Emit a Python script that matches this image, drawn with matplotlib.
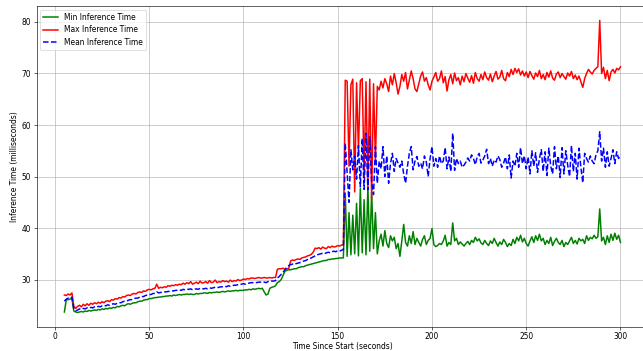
import numpy as np
import matplotlib
matplotlib.use("Agg")
import matplotlib.pyplot as plt

# time stamps (seconds since start), one sample per second from 5 to 300
t_start = 5
t_end = 300

max_time = [
    27.0, 26.9, 27.2, 27.0, 27.4,                                  # 5-9
    24.8, 24.4, 24.8, 25.0, 24.7, 25.2, 24.9, 25.3, 25.0, 25.4,    # 10-19
    25.2, 25.5, 25.3, 25.6, 25.4, 25.7, 25.5, 25.8, 25.9, 25.7,    # 20-29
    26.1, 26.0, 26.3, 26.2, 26.5, 26.4, 26.7, 26.6, 26.9, 27.0,    # 30-39
    26.9, 27.2, 27.3, 27.2, 27.5, 27.6, 27.5, 27.8, 27.7, 28.0,    # 40-49
    28.1, 28.0, 28.2, 28.3, 29.1, 28.3, 28.5, 28.4, 28.6, 28.5,    # 50-59
    28.8, 28.7, 28.9, 28.8, 29.0, 28.9, 29.1, 29.0, 29.3, 29.1,    # 60-69
    29.4, 29.2, 29.6, 29.1, 29.3, 29.5, 29.2, 29.7, 29.3, 29.4,    # 70-79
    29.6, 29.3, 29.8, 29.4, 29.5, 29.9, 29.4, 29.6, 29.5, 29.8,    # 80-89
    29.6, 29.7, 29.5, 29.9, 29.6, 29.8, 29.7, 30.0, 29.8, 29.9,    # 90-99
    30.1, 30.0, 30.2, 30.1, 30.3, 30.3, 30.2, 30.3, 30.4, 30.3,    # 100-109
    30.3, 30.4, 30.3, 30.3, 30.4, 30.3, 30.4, 30.4, 32.0, 32.1,    # 110-119
    32.1, 32.2, 32.0, 32.1, 32.1, 33.6, 33.8, 33.7, 33.9, 34.0,    # 120-129
    33.9, 34.2, 34.3, 34.4, 34.6, 34.7, 34.9, 35.3, 36.1, 36.0,    # 130-139
    36.2, 35.9, 36.3, 36.1, 36.0, 36.4, 36.2, 36.5, 36.3, 36.4,    # 140-149
    36.6, 36.5, 36.7, 36.8, 68.7, 68.5, 52.0, 67.8, 68.9, 47.0,    # 150-159
    68.2, 55.0, 68.6, 69.0, 50.0, 68.4, 48.0, 68.9, 45.5, 68.0,    # 160-169
    53.0, 67.5, 66.8, 68.5, 67.2, 69.0, 68.0, 66.5, 69.5, 67.8,    # 170-179
    70.0, 68.2, 66.0, 67.5, 69.8, 68.5, 70.2, 67.0, 68.8, 70.5,    # 180-189
    69.0, 67.0, 66.5, 68.0, 69.5, 70.3, 68.5, 69.2, 67.8, 66.8,    # 190-199
    68.5, 69.3, 70.2, 68.5, 69.0, 70.5, 68.2, 69.4, 66.6, 68.8,    # 200-209
    69.8, 68.0, 70.1, 68.6, 69.2, 67.8, 69.5, 68.4, 70.0, 69.1,    # 210-219
    68.3, 69.6, 68.1, 70.2, 69.0, 68.5, 69.8, 68.8, 70.3, 69.2,    # 220-229
    68.7, 69.9, 68.4, 69.5, 70.4, 68.9, 69.3, 70.6, 69.0, 68.6,    # 230-239
    70.2, 69.4, 70.8, 69.8, 71.0, 70.2, 70.9, 69.7, 70.5, 69.5,    # 240-249
    70.3, 69.2, 70.4, 69.6, 68.9, 70.1, 69.4, 70.6, 69.0, 69.8,    # 250-259
    68.8, 70.2, 69.3, 70.5, 69.1, 68.7, 69.9, 70.3, 69.2, 70.0,    # 260-269
    69.4, 68.9, 70.1, 69.5, 70.4, 69.0, 69.7, 68.8, 69.5, 68.4,    # 270-279
    67.3, 69.0, 70.0, 70.8, 70.3, 69.9, 70.6, 71.0, 71.3, 80.3,    # 280-289
    70.0, 71.2, 69.0, 70.6, 68.6, 70.3, 70.8, 70.1, 71.0, 70.7,    # 290-299
    71.3,                                                          # 300
]

mean_time = [
    25.8, 26.2, 26.4, 26.3, 26.6,                                  # 5-9
    24.3, 23.9, 24.1, 24.3, 24.2, 24.4, 24.3, 24.5, 24.4, 24.6,    # 10-19
    24.5, 24.7, 24.6, 24.8, 24.7, 24.9, 25.0, 24.9, 25.1, 25.0,    # 20-29
    25.2, 25.3, 25.2, 25.4, 25.5, 25.5, 25.7, 25.8, 25.8, 26.0,    # 30-39
    26.1, 26.1, 26.3, 26.4, 26.4, 26.6, 26.7, 26.7, 26.9, 27.0,    # 40-49
    27.1, 27.1, 27.3, 27.3, 27.6, 27.4, 27.5, 27.5, 27.6, 27.6,    # 50-59
    27.7, 27.7, 27.8, 27.8, 27.9, 27.9, 28.0, 27.9, 28.1, 28.0,    # 60-69
    28.1, 28.1, 28.2, 28.0, 28.1, 28.2, 28.1, 28.3, 28.2, 28.2,    # 70-79
    28.3, 28.2, 28.4, 28.3, 28.4, 28.5, 28.4, 28.5, 28.6, 28.6,    # 80-89
    28.7, 28.6, 28.8, 28.7, 28.8, 28.9, 28.9, 29.0, 29.0, 29.1,    # 90-99
    29.2, 29.1, 29.3, 29.3, 29.4, 29.4, 29.5, 29.4, 29.5, 29.5,    # 100-109
    29.6, 29.5, 29.4, 29.6, 29.6, 29.7, 29.7, 29.8, 30.3, 30.6,    # 110-119
    31.0, 31.4, 31.9, 32.4, 32.7, 32.9, 33.0, 32.9, 33.1, 33.2,    # 120-129
    33.3, 33.4, 33.6, 33.7, 33.9, 34.0, 34.2, 34.4, 34.6, 34.8,    # 130-139
    34.9, 35.0, 35.1, 35.0, 35.2, 35.3, 35.2, 35.4, 35.5, 35.4,    # 140-149
    35.6, 35.5, 35.7, 35.8, 56.5, 50.6, 45.0, 55.2, 51.3, 54.0,    # 150-159
    49.5, 56.0, 48.0, 57.4, 47.5, 58.4, 47.4, 57.7, 49.0, 46.5,    # 160-169
    55.8, 48.7, 53.0, 51.5, 55.8, 50.0, 54.0, 48.7, 52.5, 54.5,    # 170-179
    51.0, 53.5, 52.6, 51.8, 53.0, 50.5, 48.7, 52.0, 54.5, 55.8,    # 180-189
    51.3, 53.0, 53.9, 52.0, 52.6, 51.5, 54.0, 52.8, 50.0, 53.5,    # 190-199
    55.8, 52.0, 53.5, 51.8, 54.0, 52.5, 53.0, 55.6, 51.5, 53.8,    # 200-209
    51.0, 58.4, 51.2, 53.5, 52.5, 53.0, 51.8, 52.2, 52.8, 53.6,    # 210-219
    53.0, 54.2, 53.5, 52.3, 53.8, 54.5, 52.6, 53.2, 54.0, 55.3,    # 220-229
    52.5, 53.5, 52.0, 53.2, 52.8, 54.0, 53.3, 51.8, 52.6, 53.8,    # 230-239
    51.5, 54.2, 49.7, 53.0, 52.0, 54.5, 51.8, 55.6, 52.5, 54.0,    # 240-249
    51.5, 53.8, 50.5, 55.0, 52.0, 54.6, 50.8, 53.5, 55.2, 51.0,    # 250-259
    54.8, 50.2, 55.5, 52.0, 50.5, 55.8, 51.5, 54.0, 49.8, 55.6,    # 260-269
    50.5, 55.0, 52.2, 50.0, 56.0, 51.0, 54.5, 49.5, 55.5, 51.8,    # 270-279
    48.8, 54.5, 53.5, 52.8, 54.0, 53.0, 52.5, 54.2, 55.0, 58.7,    # 280-289
    53.0, 55.5, 51.8, 54.8, 52.0, 53.5, 55.2, 52.5, 54.8, 53.5,    # 290-299
    54.2,                                                          # 300
]

min_time = [
    23.7, 26.1, 26.1, 26.2, 26.3,                                  # 5-9
    23.9, 23.7, 23.6, 23.7, 23.8, 23.7, 23.9, 23.8, 24.0, 23.9,    # 10-19
    24.0, 24.1, 24.0, 24.2, 24.1, 24.3, 24.2, 24.4, 24.3, 24.5,    # 20-29
    24.4, 24.6, 24.5, 24.8, 24.7, 24.9, 25.0, 24.9, 25.2, 25.3,    # 30-39
    25.2, 25.4, 25.5, 25.5, 25.7, 25.8, 25.8, 26.0, 26.1, 26.1,    # 40-49
    26.3, 26.3, 26.4, 26.5, 26.5, 26.6, 26.6, 26.7, 26.7, 26.8,    # 50-59
    26.8, 26.9, 26.8, 27.0, 26.9, 27.0, 27.1, 27.0, 27.1, 27.1,    # 60-69
    27.2, 27.1, 27.2, 27.1, 27.1, 27.3, 27.2, 27.3, 27.3, 27.4,    # 70-79
    27.4, 27.3, 27.5, 27.4, 27.5, 27.5, 27.6, 27.5, 27.6, 27.7,    # 80-89
    27.6, 27.7, 27.8, 27.7, 27.8, 27.8, 27.9, 27.8, 27.9, 27.9,    # 90-99
    27.9, 28.0, 28.0, 28.1, 28.0, 28.2, 28.1, 28.2, 28.3, 28.2,    # 100-109
    28.3, 27.6, 27.0, 27.2, 28.3, 28.5, 28.6, 28.8, 29.4, 29.6,    # 110-119
    30.0, 30.8, 31.6, 31.8, 31.9, 31.9, 32.0, 32.1, 32.1, 32.3,    # 120-129
    32.4, 32.5, 32.5, 32.7, 32.8, 32.9, 33.0, 33.1, 33.2, 33.3,    # 130-139
    33.4, 33.5, 33.6, 33.7, 33.7, 33.9, 33.9, 34.0, 34.0, 34.1,    # 140-149
    34.1, 34.2, 34.2, 34.2, 46.8, 34.5, 43.0, 34.8, 42.5, 35.0,    # 150-159
    44.8, 34.6, 47.7, 35.2, 45.5, 34.8, 48.0, 35.5, 47.0, 36.0,    # 160-169
    43.0, 35.0, 37.5, 38.8, 36.5, 39.5, 37.0, 36.2, 38.5, 37.5,    # 170-179
    38.2, 36.0, 37.0, 34.5, 37.5, 40.7, 37.2, 36.5, 38.5, 37.0,    # 180-189
    39.3, 36.8, 38.0, 37.2, 36.5, 37.8, 38.5, 36.8, 37.6, 38.0,    # 190-199
    39.9, 36.8, 36.4, 36.6, 37.0, 36.8, 37.5, 38.6, 36.5, 37.2,    # 200-209
    36.8, 41.0, 37.5, 38.0, 36.8, 37.3, 36.9, 36.5, 37.0, 37.4,    # 210-219
    36.8, 37.6, 37.2, 38.2, 37.5, 37.9, 37.1, 36.8, 37.6, 37.0,    # 220-229
    36.6, 37.5, 37.0, 38.0, 37.2, 36.5, 37.3, 36.8, 37.8, 37.2,    # 230-239
    36.4, 37.0, 36.6, 37.8, 37.0, 38.2, 37.5, 38.6, 37.3, 38.0,    # 240-249
    37.0, 36.5, 37.5, 38.3, 37.2, 38.5, 37.6, 38.8, 37.5, 38.0,    # 250-259
    36.8, 37.6, 37.0, 38.2, 36.6, 37.4, 38.0, 37.2, 36.8, 37.6,    # 260-269
    36.4, 37.2, 36.8, 37.5, 38.2, 37.0, 37.6, 36.9, 38.0, 37.5,    # 270-279
    37.8, 37.0, 38.5, 37.6, 38.2, 37.9, 38.6, 38.0, 38.3, 43.7,    # 280-289
    37.5, 38.2, 36.8, 38.5, 37.2, 38.8, 37.6, 39.0, 37.8, 38.6,    # 290-299
    37.2,                                                          # 300
]

labels = ["Min Inference Time", "Max Inference Time", "Mean Inference Time"]

def times_for(series):
    return np.arange(t_start, t_start + len(series))

DPI = 54
fig = plt.figure(figsize=(643 / DPI, 351 / DPI), dpi=DPI)
ax = fig.add_axes([0.0569, 0.0681, 0.9513, 0.9152])

ax.plot(times_for(min_time), min_time, color="green", linestyle="-", linewidth=2.0, label=labels[0])
ax.plot(times_for(max_time), max_time, color="red", linestyle="-", linewidth=2.0, label=labels[1])
ax.plot(times_for(mean_time), mean_time, color="blue", linestyle="--", linewidth=2.0, label=labels[2])

ax.set_xlim(-9.75, 314.75)
ax.set_ylim(20.77, 83.13)
ax.set_xticks([0, 50, 100, 150, 200, 250, 300])
ax.set_yticks([30, 40, 50, 60, 70, 80])
ax.tick_params(axis="x", pad=2.5)
ax.grid(True, color="#b0b0b0", linewidth=0.8)
ax.set_xlabel("Time Since Start (seconds)", labelpad=1.5)
ax.set_ylabel("Inference Time (milliseconds)")
ax.legend(loc="upper left")

fig.savefig("out.png", dpi=DPI)
